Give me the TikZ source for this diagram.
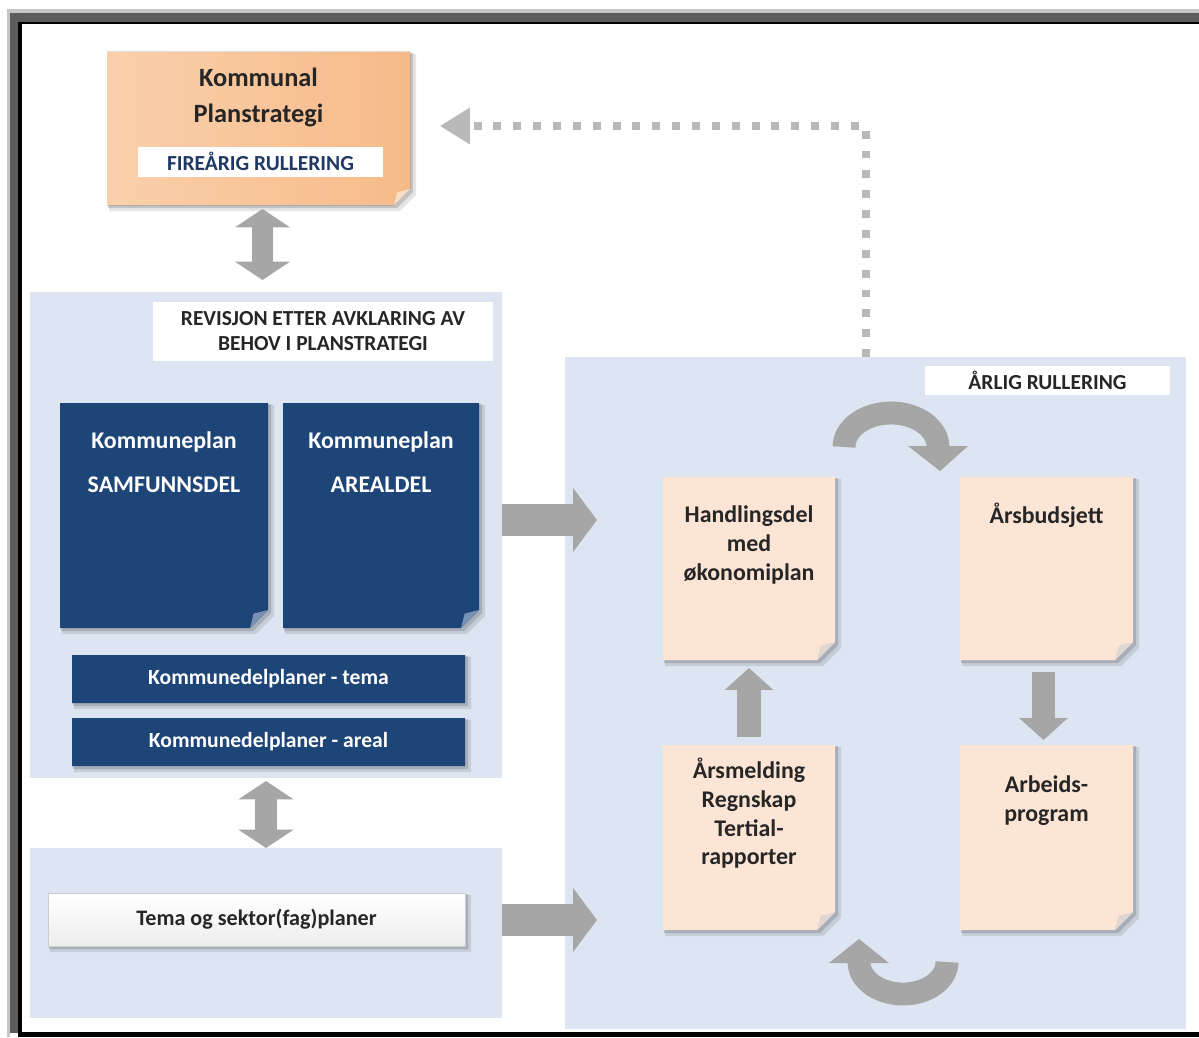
\documentclass[tikz,border=0pt]{standalone}
\usepackage{fontspec}
\setmainfont{Carlito}
\usetikzlibrary{calc,arrows.meta,fit}
\definecolor{panel}{RGB}{220,229,241}
\definecolor{navy}{RGB}{30,69,120}
\definecolor{navyfold}{RGB}{120,145,180}
\definecolor{cream}{RGB}{252,229,213}
\definecolor{creamfold}{RGB}{225,215,210}
\definecolor{orangeL}{RGB}{250,208,172}
\definecolor{orangeR}{RGB}{246,186,136}
\definecolor{orangefold}{RGB}{250,222,200}
\definecolor{arrowgray}{RGB}{166,166,166}
\definecolor{dotgray}{RGB}{185,185,185}
\definecolor{framegray}{RGB}{92,92,92}
\definecolor{labelblue}{RGB}{31,56,100}
\definecolor{darktext}{RGB}{38,38,38}
\pgfdeclarelayer{panels}
\pgfdeclarelayer{shadows}
\pgfdeclarelayer{fills}
\pgfsetlayers{panels,shadows,fills,main}
\newcommand\dgKPS{\fontsize{15}{20.4}\selectfont\bfseries}
\newcommand\dgLab{\fontsize{12.2}{14.2}\selectfont\bfseries}
\newcommand\dgKP{\fontsize{13.6}{25}\selectfont\bfseries}
\newcommand\dgStrip{\fontsize{12.3}{14}\selectfont\bfseries}
\newcommand\dgTema{\fontsize{12.6}{14}\selectfont\bfseries}
\newcommand\dgNote{\fontsize{13.6}{16.4}\selectfont\bfseries}
\newcommand\notebox[4]{%
 \begin{pgfonlayer}{shadows}
  \fill[black,opacity=0.10] ($(#1.north west)+(2,2)$) -- ($(#1.north east)+(6,2)$) -- ($(#1.south east)+(6,6-#4)$) -- ($(#1.south east)+(6-#4,6)$) -- ($(#1.south west)+(2,6)$) -- cycle;
  \fill[black,opacity=0.15] ($(#1.north west)+(1,1)$) -- ($(#1.north east)+(3,1)$) -- ($(#1.south east)+(3,3-#4)$) -- ($(#1.south east)+(3-#4,3)$) -- ($(#1.south west)+(1,3)$) -- cycle;
 \end{pgfonlayer}
 \begin{pgfonlayer}{fills}
  \fill[#2] (#1.north west) -- (#1.north east) -- ($(#1.south east)+(0,-#4)$) -- ($(#1.south east)+(-#4,0)$) -- (#1.south west) -- cycle;
  \fill[#3] ($(#1.south east)+(0,-#4)$) -- ($(#1.south east)+(-#4,0)$) -- ($(#1.south east)+(-0.8*#4,-0.8*#4)$) -- cycle;
 \end{pgfonlayer}}
\tikzset{
 area/.style={inner sep=0pt, outer sep=0pt, draw=none},
 panelbox/.style={area, fill=panel},
 whitelabel/.style={area, fill=white},
 txt/.style={inner sep=0pt, outer sep=0pt, align=center},
 vdbl/.style={draw=arrowgray, line width=12.5pt, {Triangle[width=31pt,length=10.5pt]}-{Triangle[width=31pt,length=10.5pt]}},
 vsingle/.style={draw=arrowgray, line width=13.6pt, -{Triangle[width=27pt,length=12.5pt]}},
 hbig/.style={draw=arrowgray, line width=18.1pt, -{Triangle[width=35.7pt,length=13.6pt]}},
 dotline/.style={draw=dotgray, line width=4.5pt, dash pattern=on 4.5pt off 6.8pt},
 curved/.style={draw=arrowgray, line width=13pt},
}
\begin{document}
\begin{tikzpicture}[x=0.02cm,y=-0.02cm]
\useasboundingbox (0,0) rectangle (1199,1037);
% frame
\begin{pgfonlayer}{panels}
\fill[white] (0,0) rectangle (1199,1037);
\fill[gray!45] (7,9) rectangle (1199,13);
\fill[gray!45] (7,9) rectangle (10,1037);
\fill[framegray] (10,13) rectangle (1199,22);
\fill[framegray] (10,13) rectangle (18,1033);
\fill[black] (18,22) rectangle (1199,24);
\fill[black] (18,22) rectangle (22,1037);
\fill[black] (18,1032) rectangle (1199,1037);
\node[panelbox, fit={(30,292) (502,778)}] (upper) {};
\node[panelbox, fit={(30,848) (502,1018)}] (lower) {};
\node[panelbox, fit={(565,357) (1186,1029)}] (right) {};
\end{pgfonlayer}

% Kommunal planstrategi
\node[area, fit={(107,52) (410,205)}] (kps) {};
\notebox{kps}{left color=orangeL, right color=orangeR}{orangefold}{16}
\node[txt, anchor=north, font=\dgKPS, text=darktext] (kpstext) at ($(kps.north)+(0,16)$) {Kommunal\\Planstrategi};
\node[whitelabel, fit={(138,147) (383,177)}] (fire) {};
\node[txt, font=\dgLab, text=labelblue] (firetext) at ($(fire.center)+(0,-1)$) {FIREÅRIG RULLERING};

% upper left panel
\node[whitelabel, fit={(153,302) (493,361)}] (rev) {};
\node[txt, font=\dgLab, text=darktext] (revtext) at (rev.center) {REVISJON ETTER AVKLARING AV\\BEHOV I PLANSTRATEGI};

\node[area, fit={(60,403) (268,628)}] (samf) {};
\notebox{samf}{navy}{navyfold}{18}
\node[txt, anchor=north, font=\dgKP, text=white] (samftext) at ($(samf.north)+(0,29)$) {Kommuneplan\\SAMFUNNSDEL};

\node[area, fit={(283,403) (479,628)}] (areal) {};
\notebox{areal}{navy}{navyfold}{18}
\node[txt, anchor=north, font=\dgKP, text=white] (arealtext) at ($(areal.north)+(0,29)$) {Kommuneplan\\AREALDEL};

\node[area, fit={(72,655) (465,703)}] (kdt) {};
\notebox{kdt}{navy}{navy}{0}
\node[txt, font=\dgStrip, text=white] (kdttext) at (kdt.center) {Kommunedelplaner - tema};

\node[area, fit={(72,718) (465,766)}] (kda) {};
\notebox{kda}{navy}{navy}{0}
\node[txt, font=\dgStrip, text=white] (kdatext) at (kda.center) {Kommunedelplaner - areal};

% lower left panel
\node[area, fit={(48,893) (465,946)}] (tema) {};
\notebox{tema}{top color=white, bottom color=gray!14}{gray!14}{0}
\draw[gray!40, line width=0.5pt] (tema.north west) rectangle (tema.south east);
\node[txt, font=\dgTema, text=darktext] (tematext) at (tema.center) {Tema og sektor(fag)planer};

% right panel
\node[whitelabel, fit={(925,366) (1170,395)}] (arlig) {};
\node[txt, font=\dgLab, text=darktext] (arligtext) at (arlig.center) {ÅRLIG RULLERING};

\node[area, fit={(663,477) (835,660)}] (hd) {};
\notebox{hd}{cream}{creamfold}{18}
\node[txt, anchor=north, font=\dgNote, text=darktext] (hdtext) at ($(hd.north)+(0,29)$) {Handlingsdel\\med\\økonomiplan};

\node[area, fit={(960,477) (1133,660)}] (ab) {};
\notebox{ab}{cream}{creamfold}{18}
\node[txt, anchor=north, font=\dgNote, text=darktext] (abtext) at ($(ab.north)+(0,26)$) {Årsbudsjett};

\node[area, fit={(663,745) (835,930)}] (ars) {};
\notebox{ars}{cream}{creamfold}{18}
\node[txt, anchor=north, font=\dgNote, text=darktext] (arstext) at ($(ars.north)+(0,13)$) {Årsmelding\\Regnskap\\Tertial-\\rapporter};

\node[area, fit={(960,745) (1133,930)}] (arb) {};
\notebox{arb}{cream}{creamfold}{18}
\node[txt, anchor=north, font=\dgNote, text=darktext] (arbtext) at ($(arb.north)+(0,31)$) {Arbeids-\\program};

% connectors
\coordinate (dc) at (866,126);
\draw[dotline, -{Triangle[width=19.8pt,length=17pt]}] (right.north -| dc) -- (dc) -- ($(kps.east |- dc)+(30,0)$);

\draw[vdbl] ($(kps.south)+(4,4)$) -- ($(kps.south |- upper.north)+(4,-12)$);
\draw[vdbl] ($(upper.south)+(0,3)$) -- (lower.north);

\coordinate (h1) at (0,520);
\coordinate (h2) at (0,920);
\draw[hbig] (upper.east |- h1) -- ($(right.west |- h1)+(32,0)$);
\draw[hbig] (lower.east |- h2) -- ($(right.west |- h2)+(32,0)$);

\draw[vsingle] ($(ars.north)+(0,-8)$) -- ($(hd.south)+(0,8)$);
\draw[vsingle] ($(ab.south)+(-3,12)$) -- ($(arb.north)+(-3,-5)$);

\draw[curved] (844,447) arc[start angle=180, end angle=360, x radius=47, y radius=34];
\fill[arrowgray] (908,446) -- (968,446) -- (940,471) -- cycle;
\draw[curved] (947,962) arc[start angle=0, end angle=180, x radius=44, y radius=32];
\fill[arrowgray] (829,963) -- (889,963) -- (859,939) -- cycle;
\end{tikzpicture}
\end{document}
